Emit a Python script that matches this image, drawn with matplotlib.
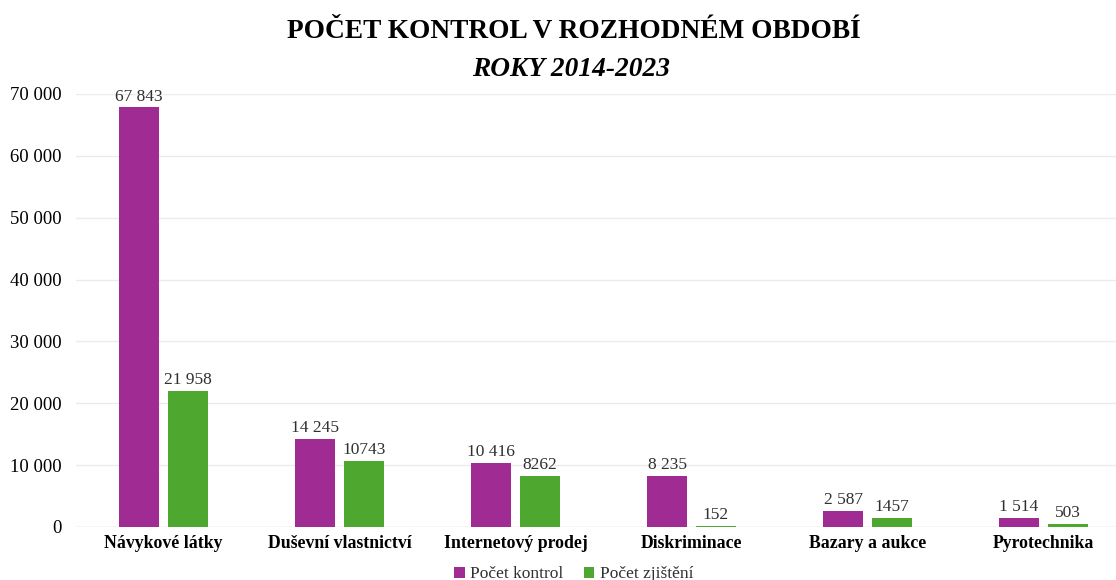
import matplotlib.pyplot as plt
import numpy as np
from matplotlib.ticker import FuncFormatter

categories = ["Návykové látky", "Duševní vlastnictví", "Internetový prodej",
              "Diskriminace", "Bazary a aukce", "Pyrotechnika"]
kontrol = [67843, 14245, 10416, 8235, 2587, 1514]
zjisteni = [21958, 10743, 8262, 152, 1457, 503]
kontrol_labels = ["67 843", "14 245", "10 416", "8 235", "2 587", "1 514"]
zjisteni_labels = ["21 958", "10743", "8262", "152", "1457", "503"]

PURPLE = "#A02B93"
GREEN = "#4EA72E"
TEXT = "#303030"

plt.rcParams["font.family"] = ["Liberation Serif", "DejaVu Serif"]

fig = plt.figure(figsize=(11.16, 5.8), dpi=100)
# plot area runs a little past the right edge of the picture (cropped in the original)
ax = fig.add_axes([0.0677, 0.0914, 0.9462, 0.7466])

x = np.arange(len(categories))
w = 0.224
off = 0.139
b1 = ax.bar(x - off, kontrol, w, color=PURPLE, label="Počet kontrol", zorder=3)
b2 = ax.bar(x + off, zjisteni, w, color=GREEN, label="Počet zjištění", zorder=3)

for bars, labels in ((b1, kontrol_labels), (b2, zjisteni_labels)):
    for rect, lab in zip(bars, labels):
        ax.annotate(lab, (rect.get_x() + rect.get_width() / 2, rect.get_height()),
                    xytext=(0, 2), textcoords="offset points", ha="center", va="bottom",
                    fontsize=12.5, color=TEXT, clip_on=False)

ax.set_xlim(-0.5, len(categories) - 0.5)
ax.set_ylim(0, 70000)
ax.set_yticks(np.arange(0, 70001, 10000))
ax.yaxis.set_major_formatter(FuncFormatter(lambda v, p: f"{int(v):,}".replace(",", " ")))
ax.set_xticks(x)
ax.set_xticklabels(categories, fontweight="bold", fontsize=12.8, color="black")
ax.tick_params(axis="y", labelsize=13.5, labelcolor="black", length=0, pad=10)
ax.tick_params(axis="x", length=0, pad=6)
ax.grid(axis="y", color="#EBEBEB", linewidth=1, zorder=0)
for s in ax.spines.values():
    s.set_visible(False)
ax.axhline(0, color="#E0E0E0", linewidth=1, zorder=2)

fig.text(0.514, 0.945, "POČET KONTROL V ROZHODNÉM OBDOBÍ", ha="center", va="center",
         fontsize=19.7, fontweight="bold")
fig.text(0.512, 0.881, "ROKY 2014-2023", ha="center", va="center",
         fontsize=19.7, fontweight="bold", style="italic")

leg = fig.legend(loc="center", bbox_to_anchor=(0.514, 0.01), ncol=2, frameon=False,
                 fontsize=12.5, handlelength=0.6, handleheight=0.6, handletextpad=0.3,
                 columnspacing=1.2, borderaxespad=0)
for t in leg.get_texts():
    t.set_color(TEXT)

fig.savefig("out.png", dpi=100)
